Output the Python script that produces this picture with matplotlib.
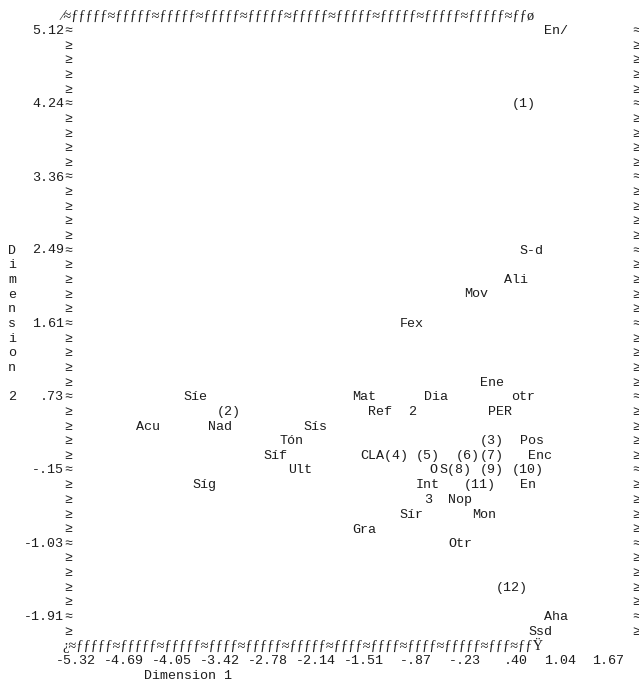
import matplotlib
matplotlib.use('Agg')
import matplotlib.pyplot as plt
import matplotlib.transforms as mtransforms

# Метки точек и их координаты (Dimension 1, Dimension 2)
labels = ['En/', '(1)', 'S-d', 'Ali', 'Mov', 'Fex', 'Ene',
          'Síe', 'Mat', 'Dia', 'otr',
          '(2)', 'Ref', '2', 'PER',
          'Acu', 'Nad', 'Sís',
          'Tón', '(3)', 'Pos',
          'Síf', 'CLA(4)', '(5)', '(6)', '(7)', 'Enc',
          'Ult', 'O', 'S(8)', '(9)', '(10)',
          'Síg', 'Int', '(11)', 'En',
          '3', 'Nop',
          'Sír', 'Mon',
          'Gra', 'Otr', '(12)', 'Aha', 'Ssd']
dim1 = [0.93, 0.50, 0.61, 0.40, -0.13, -0.98, 0.08,
        -3.84, -1.61, -0.66, 0.50,
        -3.41, -1.40, -0.87, 0.19,
        -4.47, -3.52, -2.25,
        -2.57, 0.08, 0.61,
        -2.78, -1.51, -0.77, -0.24, 0.08, 0.72,
        -2.46, -0.59, -0.45, 0.08, 0.50,
        -3.73, -0.77, -0.13, 0.61,
        -0.66, -0.34,
        -0.98, -0.02,
        -1.61, -0.34, 0.29, 0.93, 0.72]
dim2 = [5.12, 4.24, 2.48, 2.13, 1.96, 1.61, 0.90,
        0.73, 0.73, 0.73, 0.73,
        0.55, 0.55, 0.55, 0.55,
        0.37, 0.37, 0.37,
        0.20, 0.20, 0.20,
        0.02, 0.02, 0.02, 0.02, 0.02, 0.02,
        -0.15, -0.15, -0.15, -0.15, -0.15,
        -0.33, -0.33, -0.33, -0.33,
        -0.50, -0.50,
        -0.68, -0.68,
        -0.86, -1.03, -1.56, -1.91, -2.09]

# Деления осей
x_ticks = [-5.32, -4.69, -4.05, -3.42, -2.78, -2.14, -1.51, -0.87, -0.23, 0.40, 1.04, 1.67]
x_tick_labels = ['-5.32', '-4.69', '-4.05', '-3.42', '-2.78', '-2.14', '-1.51',
                 '-.87', '-.23', '.40', '1.04', '1.67']
y_ticks = [5.12, 4.24, 3.36, 2.49, 1.61, 0.73, -0.15, -1.03, -1.91]
y_tick_labels = ['5.12', '4.24', '3.36', '2.49', '1.61', '.73', '-.15', '-1.03', '-1.91']

top_border = '⁄≈' + 'ƒƒƒƒƒ≈' * 10 + 'ƒƒø'
bottom_border = ('¿≈ƒƒƒƒƒ≈ƒƒƒƒƒ≈ƒƒƒƒƒ≈ƒƒƒƒ≈ƒƒƒƒƒ≈ƒƒƒƒƒ≈ƒƒƒƒ≈ƒƒƒƒ≈ƒƒƒƒ≈'
                 'ƒƒƒƒƒ≈ƒƒƒ≈ƒƒŸ')

# Геометрия "текстовой" сетки
DPI = 100
W, H = 639, 681
CW = 8.0      # ширина символа, px
LH = 14.65    # высота строки, px
X_PX0 = 72.0  # левый край первой колонки-деления
Y_PX0 = 30.05 # центр первой строки-деления (сверху)
xstep = (x_ticks[-1] - x_ticks[0]) / 66
ystep = (y_ticks[0] - y_ticks[-1]) / 40

mono = ['Liberation Mono', 'DejaVu Sans Mono']
FS = 9.6
INK = '#1c1c1c'

fig = plt.figure(figsize=(W / DPI, H / DPI), dpi=DPI)
fig.patch.set_facecolor('white')
ax = fig.add_axes([0, 0, 1, 1])
ax.set_xlim(x_ticks[0] - X_PX0 / CW * xstep, x_ticks[0] + (W - X_PX0) / CW * xstep)
ax.set_ylim(y_ticks[0] - (H - Y_PX0) / LH * ystep, y_ticks[0] + Y_PX0 / LH * ystep)
ax.axis('off')


def col_x(c):
    return x_ticks[0] + (c - 1) * xstep


def row_y(r):
    return y_ticks[0] - (r - 1) * ystep


def shift(dx=0.0, dy=0.0):
    return ax.transData + mtransforms.ScaledTranslation(dx / DPI, dy / DPI, fig.dpi_scale_trans)


BASE = -4.0  # от центра строки до базовой линии

# Рамка
for r in range(1, 43):
    ch = '≈' if (r - 1) % 5 == 0 else '≥'
    for c in (0, 71):
        ax.text(col_x(c), row_y(r), ch, family=mono, fontsize=FS, color=INK,
                ha='left', va='baseline', transform=shift(0, BASE))
ax.text(col_x(0), row_y(0), top_border, family=['Liberation Serif', 'DejaVu Serif'],
        fontsize=10.4, color=INK, ha='left', va='baseline', transform=shift(-2, -4.5))
ax.text(col_x(0), row_y(43), bottom_border, family=['Liberation Serif', 'DejaVu Serif'],
        fontsize=10.4, color=INK, ha='left', va='baseline', transform=shift(-2, -4.5))

# Подписи делений
for v, s in zip(y_ticks, y_tick_labels):
    ax.text(col_x(0), v, s, family=mono, fontsize=FS, color=INK,
            ha='right', va='baseline', transform=shift(0, BASE))
for v, s in zip(x_ticks, x_tick_labels):
    ax.text(v, row_y(44), s, family=mono, fontsize=FS, color=INK,
            ha='right', va='baseline', transform=shift(3 * CW, BASE))

# Названия осей
ax.text(col_x(10), row_y(45), 'Dimension 1', family=mono, fontsize=FS, color=INK,
        ha='left', va='baseline', transform=shift(0, BASE))
for i, ch in enumerate('Dimension 2'):
    if ch != ' ':
        ax.text(col_x(-7), row_y(16 + i), ch, family=mono, fontsize=FS, color=INK,
                ha='left', va='baseline', transform=shift(0, BASE))

# Точки-метки
for s, x, y in zip(labels, dim1, dim2):
    ax.text(x, y, s, family=mono, fontsize=FS, color=INK,
            ha='left', va='baseline', transform=shift(0, BASE))

fig.savefig('out.png', dpi=DPI, facecolor='white')
